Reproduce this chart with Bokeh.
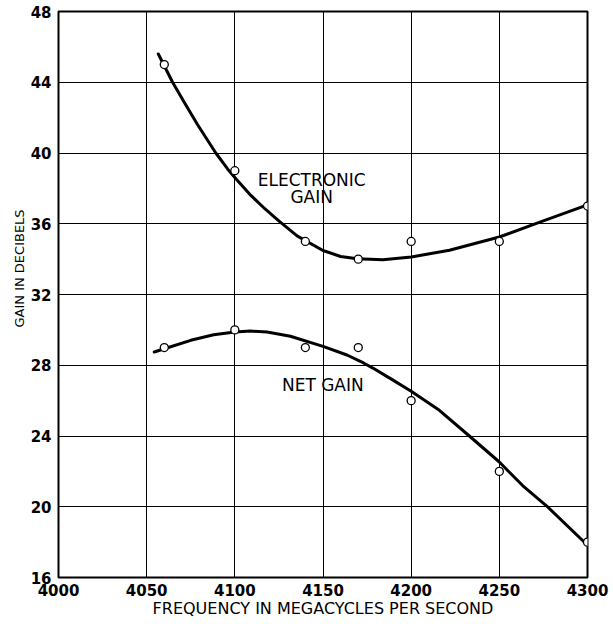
from bokeh.plotting import figure
from bokeh.models import Range1d, FixedTicker, Label, Title
from bokeh.embed import file_html
from bokeh.resources import INLINE

# Measured points
freq = [4060, 4100, 4140, 4170, 4200, 4250, 4300]
electronic_gain = [45, 39, 35, 34, 35, 35, 37]
net_gain = [29, 30, 29, 29, 26, 22, 18]

# Hand-drawn fitted curves
elec_curve_x = [4056.6, 4060.9, 4064.7, 4071.3, 4078.9, 4089.2, 4095.9, 4100.6, 4109.1,
                4117.0, 4125.1, 4135.5, 4150.0, 4160.0, 4169.5, 4184.0, 4200.0, 4221.7,
                4250.0, 4272.6, 4300.0]
elec_curve_y = [45.60, 44.75, 44.00, 42.87, 41.60, 40.00, 39.10, 38.54, 37.60,
                36.85, 36.15, 35.30, 34.49, 34.15, 34.02, 33.97, 34.12, 34.50,
                35.25, 36.08, 37.07]
net_curve_x = [4054.3, 4059.6, 4075.0, 4088.0, 4100.0, 4109.0, 4118.3, 4131.5, 4150.0,
               4163.6, 4173.0, 4178.3, 4189.0, 4200.0, 4216.0, 4233.0, 4250.0, 4263.2,
               4277.4, 4299.0]
net_curve_y = [28.75, 28.92, 29.41, 29.72, 29.88, 29.93, 29.88, 29.64, 29.07,
               28.58, 28.13, 27.84, 27.20, 26.53, 25.45, 24.00, 22.53, 21.20,
               19.99, 17.92]

x_ticks = [4000, 4050, 4100, 4150, 4200, 4250, 4300]
y_ticks = [16, 20, 24, 28, 32, 36, 40, 44, 48]

FONT = "DejaVu Sans"

p = figure(width=613, height=624, output_backend="svg", toolbar_location=None,
           x_range=Range1d(4000, 4300), y_range=Range1d(16, 48),
           min_border_left=58, min_border_right=26, min_border_top=11,
           min_border_bottom=47)
p.background_fill_color = "white"
p.border_fill_color = "white"
p.outline_line_color = "black"
p.outline_line_width = 2
p.outline_line_alpha = 1

for ax in (p.xaxis[0], p.yaxis[0]):
    ax.axis_line_color = None
    ax.major_tick_line_color = None
    ax.minor_tick_line_color = None
    ax.major_label_text_font = FONT
    ax.major_label_text_font_style = "bold"
    ax.major_label_text_font_size = "15px"
    ax.major_label_text_color = "black"
p.xaxis.ticker = FixedTicker(ticks=x_ticks)
p.yaxis.ticker = FixedTicker(ticks=y_ticks)
p.xaxis.major_label_standoff = 0
p.yaxis.major_label_standoff = 1

p.xaxis.axis_label = "FREQUENCY IN MEGACYCLES PER SECOND"
p.xaxis.axis_label_text_font = FONT
p.xaxis.axis_label_text_font_style = "normal"
p.xaxis.axis_label_text_font_size = "16px"
p.xaxis.axis_label_text_color = "black"
p.xaxis.axis_label_standoff = 0

p.add_layout(Title(text="GAIN IN DECIBELS", align="left", offset=250,
                   text_font=FONT, text_font_size="13px", text_font_style="normal",
                   text_color="black", standoff=2), "left")

p.xgrid.ticker = FixedTicker(ticks=x_ticks)
p.ygrid.ticker = FixedTicker(ticks=y_ticks)
for g in (p.xgrid[0], p.ygrid[0]):
    g.grid_line_color = "black"
    g.grid_line_width = 1
    g.grid_line_alpha = 1

p.line(elec_curve_x, elec_curve_y, line_color="black", line_width=3, line_join="round", line_cap="round")
p.line(net_curve_x, net_curve_y, line_color="black", line_width=3, line_join="round", line_cap="round")

p.scatter(freq, electronic_gain, marker="circle", size=8, fill_color="white",
          line_color="black", line_width=1.3)
p.scatter(freq, net_gain, marker="circle", size=8, fill_color="white",
          line_color="black", line_width=1.3)

for txt, x, y in [("ELECTRONIC", 4143.6, 38.48), ("GAIN", 4143.6, 37.54),
                  ("NET GAIN", 4149.9, 26.9)]:
    p.add_layout(Label(x=x, y=y, text=txt, text_font=FONT, text_font_size="17px",
                       text_align="center", text_baseline="middle", text_color="black"))

open("out.html", "w").write(file_html(p, INLINE))
